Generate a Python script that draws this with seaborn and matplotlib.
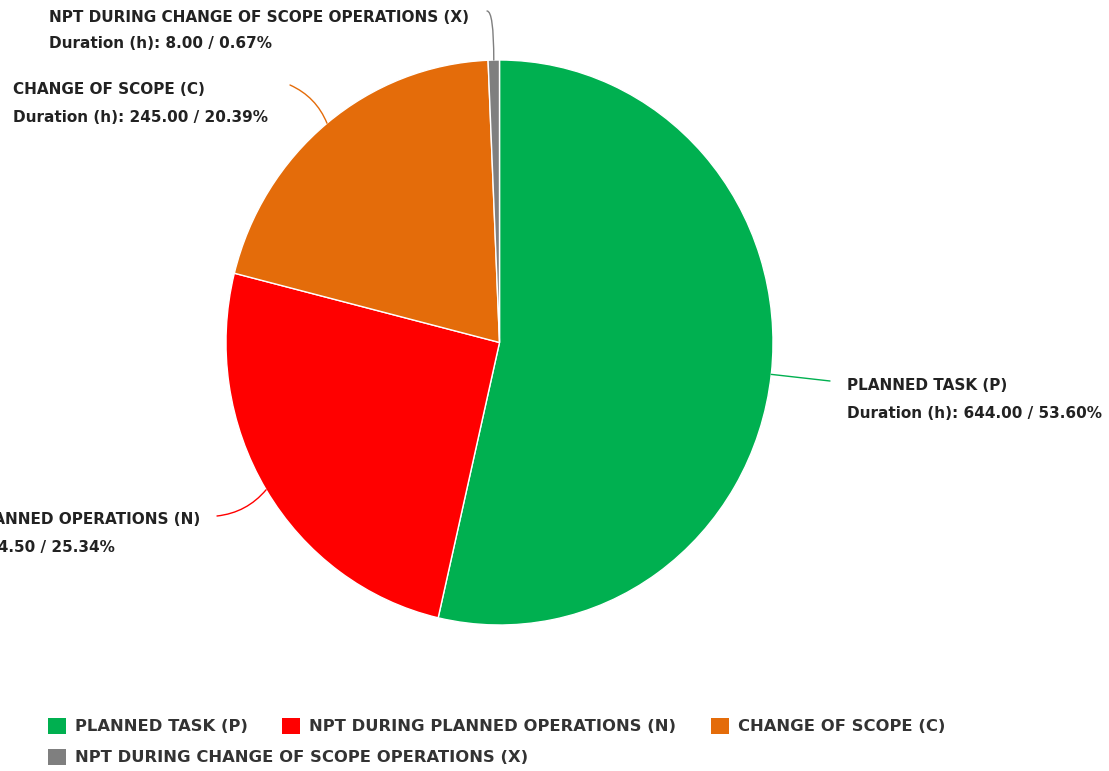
import numpy as np
import matplotlib
matplotlib.use("Agg")
import matplotlib.pyplot as plt
import seaborn as sns
from matplotlib.patches import Patch

categories = ["PLANNED TASK (P)", "NPT DURING PLANNED OPERATIONS (N)",
              "CHANGE OF SCOPE (C)", "NPT DURING CHANGE OF SCOPE OPERATIONS (X)"]
durations = [644.00, 304.50, 245.00, 8.00]
percents = [53.60, 25.34, 20.39, 0.67]
colors = ["#00b050", "#ff0000", "#e46c0a", "#7f7f7f"]

sns.set_theme(style="white")
plt.rcParams["font.family"] = ["DejaVu Sans"]

W, H = 1109, 771
fig = plt.figure(figsize=(W / 100, H / 100), dpi=100)

# pie centre / radii in pixels (top-left origin)
cx, cy, rx, ry = 499.5, 342.5, 273.5, 282.5
ax = fig.add_axes([(cx - rx) / W, (H - cy - ry) / H, 2 * rx / W, 2 * ry / H])
wedges, _ = ax.pie(durations, colors=colors, startangle=90, counterclock=False,
                   radius=1.0, wedgeprops=dict(edgecolor="white", linewidth=1.0))
ax.set_aspect("auto")
ax.set_xlim(-1, 1)
ax.set_ylim(-1, 1)
ax.axis("off")

# label positions in pixels (left x, centre y of first line), connector end points
label_pos = [(847, 386), (-140, 520), (13, 90), (49, 17)]
conn_end = [(830, 381), (217, 516), (290, 85), (487, 11)]
conn_style = ["arc3,rad=0.0", "arc3,rad=0.2", "arc3,rad=-0.2",
              "angle3,angleA=0,angleB=90"]
line_gap = 27

for i, w in enumerate(wedges):
    mid = np.deg2rad((w.theta1 + w.theta2) / 2)
    xy = (np.cos(mid), np.sin(mid))
    ex, ey = conn_end[i]
    ax.annotate("", xy=xy, xycoords="data", xytext=(ex, H - ey),
                textcoords="figure pixels",
                arrowprops=dict(arrowstyle="-", color=colors[i], lw=1.0,
                                shrinkA=0, shrinkB=0,
                                connectionstyle=conn_style[i]),
                annotation_clip=False)
    lx, ly = label_pos[i]
    fig.text(lx / W, (H - ly) / H, categories[i], fontsize=11, fontweight="bold",
             color="#222222", ha="left", va="center")
    fig.text(lx / W, (H - ly - line_gap) / H,
             f"Duration (h): {durations[i]:.2f} / {percents[i]:.2f}%",
             fontsize=11, fontweight="bold", color="#222222", ha="left", va="center")

handles = [Patch(facecolor=c, edgecolor="none") for c in colors]
leg_kw = dict(frameon=False, handlelength=1.1, handleheight=1.1,
              handletextpad=0.55, columnspacing=2.1, borderpad=0, borderaxespad=0,
              loc="center left", bbox_transform=fig.transFigure,
              prop=dict(weight="bold", size=11.8))
leg1 = fig.legend(handles[:3], categories[:3], ncol=3,
                  bbox_to_anchor=(48 / W, (H - 726) / H), **leg_kw)
for t in leg1.get_texts():
    t.set_color("#333333")
leg2 = fig.legend(handles[3:], categories[3:], ncol=1,
                  bbox_to_anchor=(48 / W, (H - 757) / H), **leg_kw)
for t in leg2.get_texts():
    t.set_color("#333333")

fig.savefig("out.png", dpi=100)
